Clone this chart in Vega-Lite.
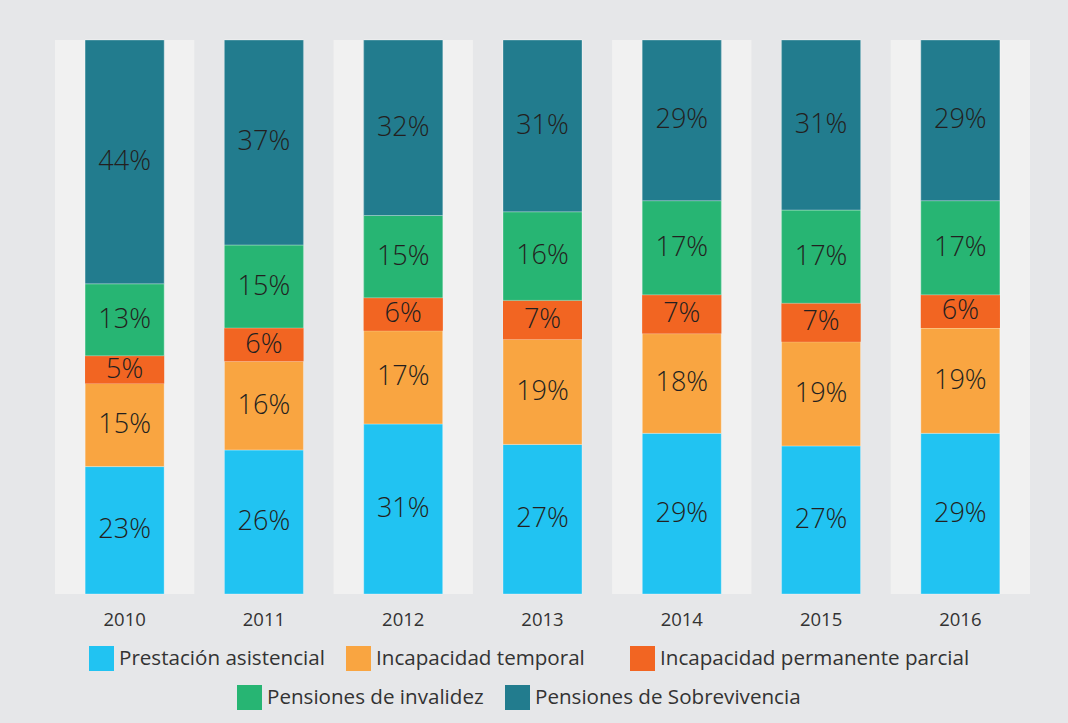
{
  "$schema": "https://vega.github.io/schema/vega-lite/v6.json",
  "width": 975,
  "height": 554,
  "autosize": "none",
  "padding": {"left": 55, "top": 40, "right": 38, "bottom": 129},
  "background": "#e6e7e9",
  "config": {
    "view": {"stroke": null},
    "axisX": {"domain": false, "ticks": false, "grid": false, "labelAngle": 0, "labelFont": "Open Sans", "labelFontSize": 18.5, "labelColor": "#333333", "labelPadding": 16},
    "legend": {"labelFont": "Open Sans", "labelFontSize": 20.6, "labelColor": "#333333", "labelLimit": 0, "symbolType": "square", "symbolSize": 625, "symbolStrokeWidth": 0, "labelOffset": 5, "columnPadding": 21, "padding": 0, "direction": "horizontal", "title": null}
  },
  "datasets": {
    "d": [
      {"year": "2010", "cat": "Prestación asistencial", "v": 0.23},
      {"year": "2010", "cat": "Incapacidad temporal", "v": 0.15},
      {"year": "2010", "cat": "Incapacidad permanente parcial", "v": 0.05},
      {"year": "2010", "cat": "Pensiones de invalidez", "v": 0.13},
      {"year": "2010", "cat": "Pensiones de Sobrevivencia", "v": 0.44},
      {"year": "2011", "cat": "Prestación asistencial", "v": 0.26},
      {"year": "2011", "cat": "Incapacidad temporal", "v": 0.16},
      {"year": "2011", "cat": "Incapacidad permanente parcial", "v": 0.06},
      {"year": "2011", "cat": "Pensiones de invalidez", "v": 0.15},
      {"year": "2011", "cat": "Pensiones de Sobrevivencia", "v": 0.37},
      {"year": "2012", "cat": "Prestación asistencial", "v": 0.31},
      {"year": "2012", "cat": "Incapacidad temporal", "v": 0.17},
      {"year": "2012", "cat": "Incapacidad permanente parcial", "v": 0.06},
      {"year": "2012", "cat": "Pensiones de invalidez", "v": 0.15},
      {"year": "2012", "cat": "Pensiones de Sobrevivencia", "v": 0.32},
      {"year": "2013", "cat": "Prestación asistencial", "v": 0.27},
      {"year": "2013", "cat": "Incapacidad temporal", "v": 0.19},
      {"year": "2013", "cat": "Incapacidad permanente parcial", "v": 0.07},
      {"year": "2013", "cat": "Pensiones de invalidez", "v": 0.16},
      {"year": "2013", "cat": "Pensiones de Sobrevivencia", "v": 0.31},
      {"year": "2014", "cat": "Prestación asistencial", "v": 0.29},
      {"year": "2014", "cat": "Incapacidad temporal", "v": 0.18},
      {"year": "2014", "cat": "Incapacidad permanente parcial", "v": 0.07},
      {"year": "2014", "cat": "Pensiones de invalidez", "v": 0.17},
      {"year": "2014", "cat": "Pensiones de Sobrevivencia", "v": 0.29},
      {"year": "2015", "cat": "Prestación asistencial", "v": 0.27},
      {"year": "2015", "cat": "Incapacidad temporal", "v": 0.19},
      {"year": "2015", "cat": "Incapacidad permanente parcial", "v": 0.07},
      {"year": "2015", "cat": "Pensiones de invalidez", "v": 0.17},
      {"year": "2015", "cat": "Pensiones de Sobrevivencia", "v": 0.31},
      {"year": "2016", "cat": "Prestación asistencial", "v": 0.29},
      {"year": "2016", "cat": "Incapacidad temporal", "v": 0.19},
      {"year": "2016", "cat": "Incapacidad permanente parcial", "v": 0.06},
      {"year": "2016", "cat": "Pensiones de invalidez", "v": 0.17},
      {"year": "2016", "cat": "Pensiones de Sobrevivencia", "v": 0.29}
    ]
  },
  "layer": [
    {
      "data": {"values": [{"year": "2010"}, {"year": "2012"}, {"year": "2014"}, {"year": "2016"}]},
      "mark": {"type": "bar", "color": "#f1f1f1"},
      "encoding": {
        "x": {"field": "year", "type": "nominal", "title": null, "scale": {"domain": ["2010", "2011", "2012", "2013", "2014", "2015", "2016"], "paddingInner": 0, "paddingOuter": 0}},
        "y": {"datum": 0, "type": "quantitative", "axis": null, "scale": {"domain": [0, 1], "nice": false}},
        "y2": {"datum": 1}
      }
    },
    {
      "data": {"name": "d"},
      "transform": [{"stack": "v", "groupby": ["year"], "offset": "normalize", "as": ["y0", "y1"]}],
      "mark": {"type": "bar", "width": {"band": 0.567}, "stroke": "#ffffff", "strokeWidth": 1, "strokeOpacity": 0.3},
      "encoding": {
        "x": {"field": "year", "type": "nominal", "title": null},
        "y": {"field": "y0", "type": "quantitative", "axis": null},
        "y2": {"field": "y1"},
        "color": {
          "field": "cat", "type": "nominal",
          "scale": {"domain": ["Prestación asistencial", "Incapacidad temporal", "Incapacidad permanente parcial", "Pensiones de invalidez", "Pensiones de Sobrevivencia"], "range": ["#21c3f2", "#f9a541", "#f26522", "#27b573", "#227c8e"]},
          "legend": {"values": ["Prestación asistencial", "Incapacidad temporal"], "orient": "none", "legendX": 34, "legendY": 606, "direction": "horizontal"}
        }
      }
    },
    {
      "data": {"name": "d"},
      "transform": [
        {"stack": "v", "groupby": ["year"], "offset": "normalize", "as": ["y0", "y1"]},
        {"filter": {"field": "cat", "equal": "Incapacidad permanente parcial"}}
      ],
      "mark": {"type": "bar", "width": {"band": 0.567}, "fill": "#f26522", "strokeWidth": 0},
      "encoding": {
        "x": {"field": "year", "type": "nominal", "title": null},
        "y": {"field": "y0", "type": "quantitative", "axis": null},
        "y2": {"field": "y1"},
        "stroke": {
          "field": "cat", "type": "nominal",
          "scale": {"domain": ["Incapacidad permanente parcial"], "range": ["#f26522"]},
          "legend": {"orient": "none", "legendX": 575, "legendY": 606, "direction": "horizontal", "symbolFillColor": "#f26522"}
        }
      }
    },
    {
      "data": {"name": "d"},
      "transform": [
        {"stack": "v", "groupby": ["year"], "offset": "normalize", "as": ["y0", "y1"]},
        {"filter": {"field": "cat", "oneOf": ["Pensiones de invalidez", "Pensiones de Sobrevivencia"]}}
      ],
      "mark": {"type": "bar", "width": {"band": 0.567}, "stroke": "#ffffff", "strokeWidth": 1, "strokeOpacity": 0.3},
      "encoding": {
        "x": {"field": "year", "type": "nominal", "title": null},
        "y": {"field": "y0", "type": "quantitative", "axis": null},
        "y2": {"field": "y1"},
        "fill": {
          "field": "cat", "type": "nominal",
          "scale": {"domain": ["Pensiones de invalidez", "Pensiones de Sobrevivencia"], "range": ["#27b573", "#227c8e"]},
          "legend": {"orient": "none", "legendX": 182, "legendY": 645, "direction": "horizontal"}
        }
      }
    },
    {
      "data": {"name": "d"},
      "transform": [{"stack": "v", "groupby": ["year"], "offset": "normalize", "as": ["y0", "y1"]}],
      "mark": {"type": "text", "font": "Open Sans", "fontSize": 27, "fontWeight": 300, "color": "#231f20"},
      "encoding": {
        "x": {"field": "year", "type": "nominal", "title": null},
        "y": {"field": "v", "type": "quantitative", "stack": "normalize", "bandPosition": 0.5, "axis": null},
        "detail": {"field": "cat"},
        "order": {"field": "y0", "type": "quantitative"},
        "text": {"field": "v", "type": "quantitative", "format": ".0%"}
      }
    }
  ]
}
